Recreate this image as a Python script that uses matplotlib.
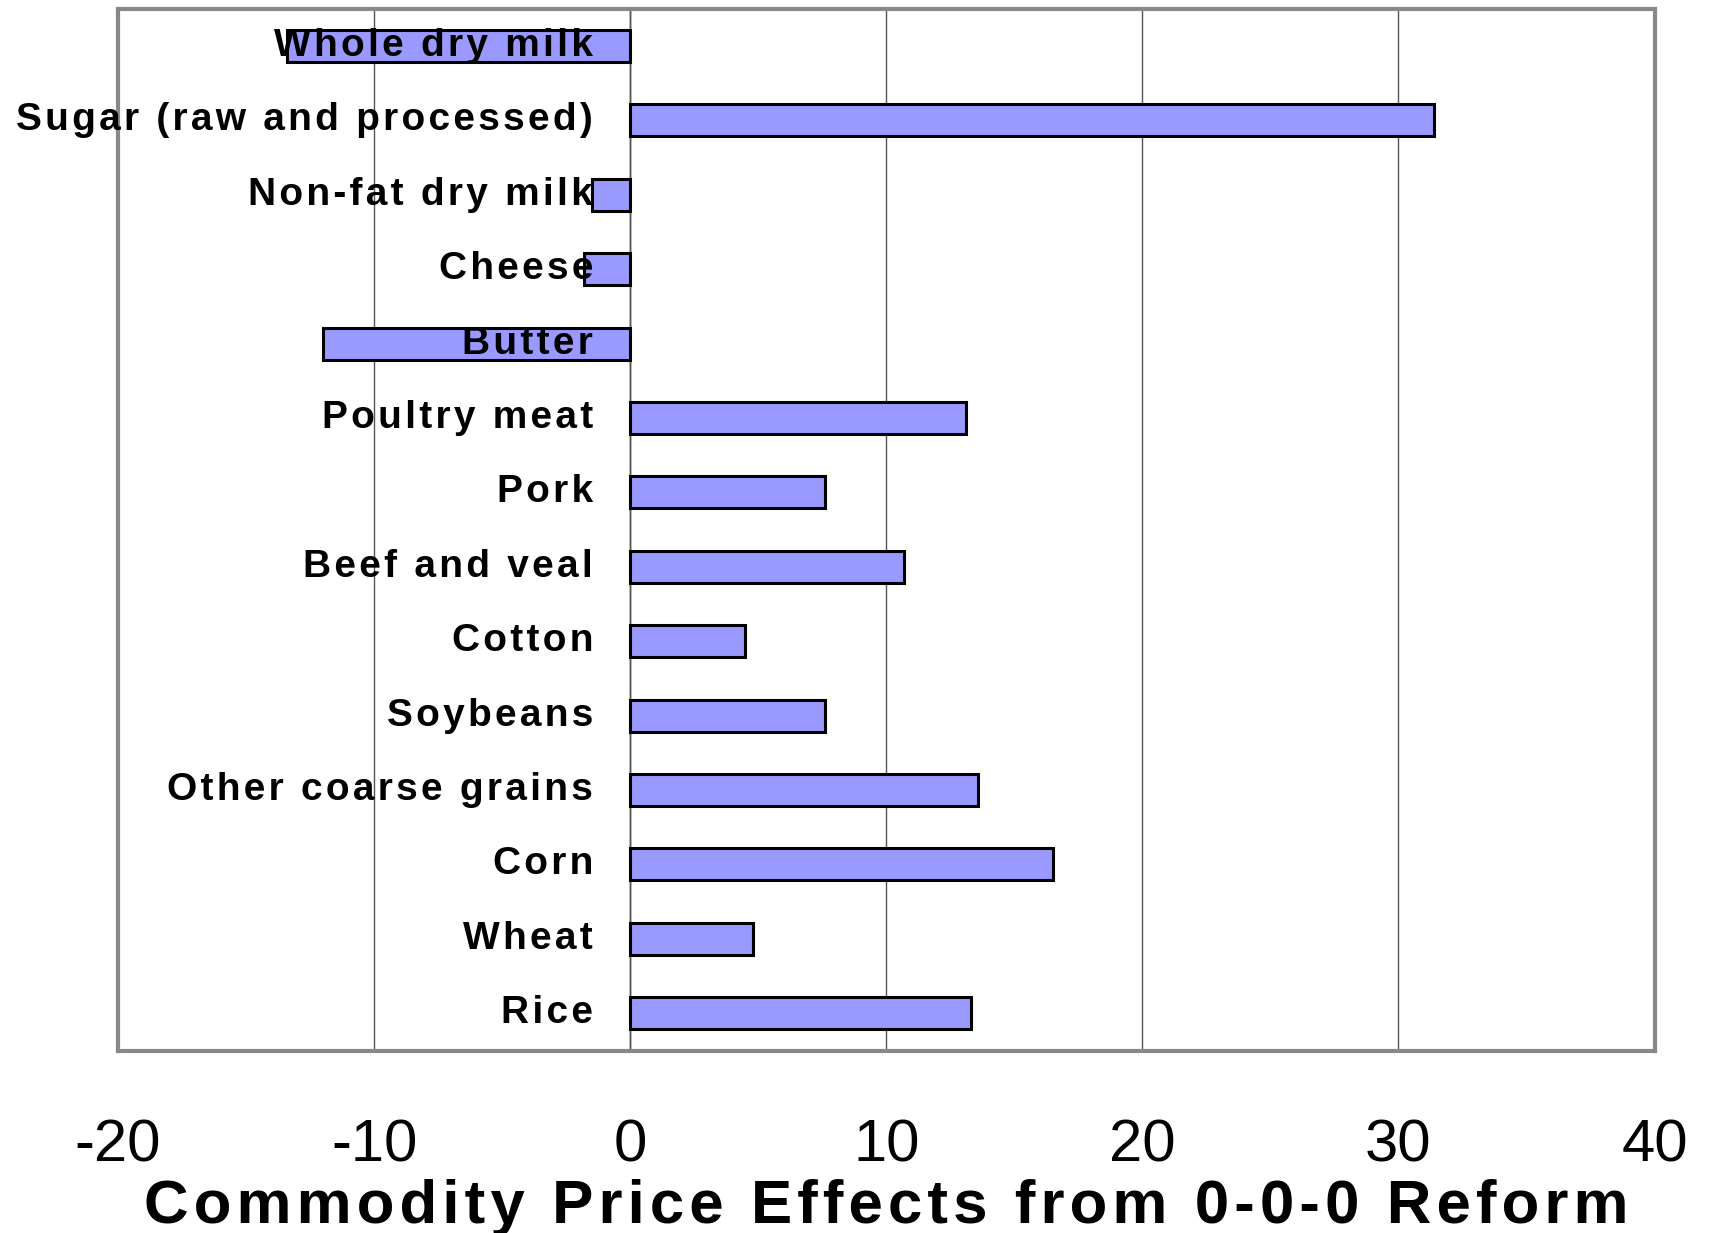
import matplotlib
matplotlib.use("Agg")
import matplotlib.pyplot as plt
import numpy as np

# commodities listed top to bottom as in the chart
commodities = [
    "Whole dry milk", "Sugar (raw and processed)", "Non-fat dry milk", "Cheese",
    "Butter", "Poultry meat", "Pork", "Beef and veal", "Cotton", "Soybeans",
    "Other coarse grains", "Corn", "Wheat", "Rice",
]
price_effect = [-13.4, 31.4, -1.5, -1.8, -12.0, 13.1, 7.6, 10.7, 4.5, 7.6, 13.6, 16.5, 4.8, 13.3]
x_ticks = [-20, -10, 0, 10, 20, 30, 40]
x_title = "Commodity Price Effects from 0-0-0 Reform"

plt.rcParams["font.family"] = ["Liberation Sans", "DejaVu Sans"]


def spaced(s, n=1):
    # old chart software spread the letters out; hair spaces fake that
    return ("\u200a" * n).join(s)


fig = plt.figure(figsize=(17.11, 12.33), dpi=100)
ax = fig.add_axes([0.069, 0.148, 0.898, 0.845])

y = np.arange(len(commodities))
ax.barh(y, price_effect, height=0.43, color="#9999FF", edgecolor="black",
        linewidth=2.2, zorder=3)

# category names sit inside the plot, just left of zero
for yi, name in zip(y, commodities):
    ax.text(-1.45, yi, spaced(name), ha="right", va="center", fontsize=28,
            fontweight="bold", zorder=4)

ax.set_xlim(-20, 40)
ax.set_ylim(len(commodities) - 0.5, -0.5)
ax.set_xticks(x_ticks)
ax.set_xticklabels([str(t) for t in x_ticks])
ax.set_yticks([])
ax.tick_params(axis="x", length=0, pad=49, labelsize=43)
ax.grid(axis="x", color="#555555", linewidth=1, zorder=0)
ax.axvline(0, color="black", linewidth=1, zorder=1)
for s in ax.spines.values():
    s.set_color("#888888")
    s.set_linewidth(3)

ax.set_xlabel(spaced(x_title), fontsize=44.5, fontweight="bold", labelpad=4)

fig.savefig("out.png", dpi=100)
